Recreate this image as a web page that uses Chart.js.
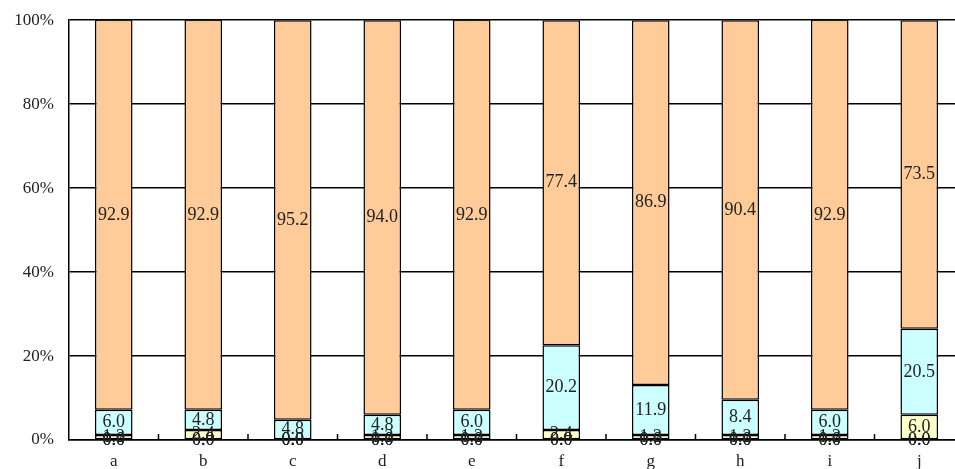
<!DOCTYPE html>
<html>
<head>
<meta charset="utf-8">
<script src="https://cdn.jsdelivr.net/npm/chart.js@4.4.0/dist/chart.umd.min.js"></script>
<style>
  html, body { margin: 0; padding: 0; background: #fff; overflow: hidden; }
  #wrap { width: 964px; height: 474px; margin-top: -5px; position: relative; }
</style>
</head>
<body>
<div id="wrap"><canvas id="chart"></canvas></div>
<script>
// categories
var labels = ['a', 'b', 'c', 'd', 'e', 'f', 'g', 'h', 'i', 'j'];

// series values (percent of total), bottom to top
var zeroA  = [0, 0, 0, 0, 0, 0, 0, 0, 0, 0];
var zeroB  = [0, 0, 0, 0, 0, 0, 0, 0, 0, 0];
var yellow = [1.2, 2.4, 0, 1.2, 1.2, 2.4, 1.2, 1.2, 1.2, 6.0];
var cyan   = [6.0, 4.8, 4.8, 4.8, 6.0, 20.2, 11.9, 8.4, 6.0, 20.5];
var orange = [92.9, 92.9, 95.2, 94.0, 92.9, 77.4, 86.9, 90.4, 92.9, 73.5];

var yTicks = [0, 20, 40, 60, 80, 100];

var FONT = '"Liberation Serif", "DejaVu Serif", serif';

//draws the value of each segment in its middle
var valueLabels = {
  id: 'valueLabels',
  afterDatasetsDraw: function (chart) {
    var ctx = chart.ctx;
    ctx.save();
    ctx.font = '18px ' + FONT;
    ctx.fillStyle = '#222';
    ctx.textAlign = 'center';
    ctx.textBaseline = 'middle';
    chart.data.datasets.forEach(function (ds, i) {
      var meta = chart.getDatasetMeta(i);
      meta.data.forEach(function (bar, j) {
        var p = bar.getProps(['x', 'y', 'base'], true);
        ctx.fillText(ds.data[j].toFixed(1), p.x, (p.y + p.base) / 2);
      });
    });
    ctx.restore();
  }
};

//small tick marks between categories, pointing up from the axis
var innerTicks = {
  id: 'innerTicks',
  afterDraw: function (chart) {
    var x = chart.scales.x, ctx = chart.ctx;
    var bottom = chart.chartArea.bottom;
    ctx.save();
    ctx.strokeStyle = '#000';
    ctx.lineWidth = 1.5;
    for (var i = 1; i < labels.length; i++) {
      var px = (x.getPixelForValue(i - 1) + x.getPixelForValue(i)) / 2;
      ctx.beginPath();
      ctx.moveTo(px, bottom);
      ctx.lineTo(px, bottom - 6);
      ctx.stroke();
    }
    ctx.restore();
  }
};

function barSet(data, color) {
  return {
    data: data,
    backgroundColor: color,
    borderColor: '#000',
    borderWidth: 1.5,
    borderSkipped: false,
    barPercentage: 0.42,
    categoryPercentage: 1
  };
}

Chart.defaults.font.family = FONT;
Chart.defaults.color = '#222';

new Chart(document.getElementById('chart'), {
  type: 'bar',
  data: {
    labels: labels,
    datasets: [
      barSet(zeroA, '#ffffff'),
      barSet(zeroB, '#ffffff'),
      barSet(yellow, '#ffffcc'),
      barSet(cyan, '#ccffff'),
      barSet(orange, '#ffcc99')
    ]
  },
  options: {
    responsive: true,
    maintainAspectRatio: false,
    animation: false,
    layout: { padding: { top: 5, right: 0, bottom: 0, left: 0 } },
    plugins: { legend: { display: false }, tooltip: { enabled: false } },
    scales: {
      x: {
        stacked: true,
        grid: { display: false },
        border: { color: '#000', width: 1.5 },
        ticks: { font: { size: 17 }, padding: 3, maxRotation: 0 },
        afterFit: function (s) { s.height = 29; }
      },
      y: {
        stacked: true,
        min: 0,
        max: 100,
        afterBuildTicks: function (s) {
          s.ticks = yTicks.map(function (v) { return { value: v }; });
        },
        grid: { color: '#000', lineWidth: 1.5, drawTicks: false },
        border: { color: '#000', width: 1.5 },
        ticks: {
          font: { size: 17 },
          padding: 15,
          callback: function (v) { return v + '%'; }
        },
        afterFit: function (s) { s.width = 69; }
      }
    }
  },
  plugins: [valueLabels, innerTicks]
});
</script>
</body>
</html>
